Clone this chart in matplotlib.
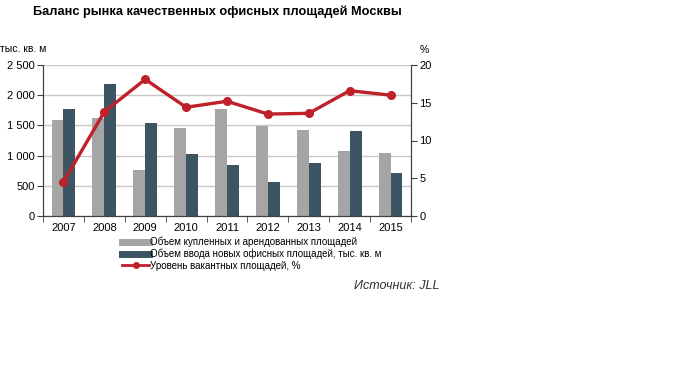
import matplotlib
matplotlib.use("Agg")
import matplotlib.pyplot as plt
from matplotlib.lines import Line2D
import numpy as np

plt.rcParams['font.family'] = ['Liberation Sans Narrow', 'Liberation Sans', 'DejaVu Sans']

years = ["2007", "2008", "2009", "2010", "2011", "2012", "2013", "2014", "2015"]
leased = [1590, 1620, 760, 1455, 1770, 1490, 1425, 1075, 1045]
new_supply = [1770, 2185, 1540, 1025, 845, 560, 875, 1405, 710]
vacancy = [4.5, 13.8, 18.1, 14.4, 15.2, 13.5, 13.6, 16.6, 16.0]

c_gray = "#a5a5a5"
c_dark = "#3d5562"
c_red = "#c0202a"

fig = plt.figure(figsize=(6.8, 3.84), dpi=100)
ax = fig.add_axes([43 / 680, 1 - 216 / 384, 368 / 680, 151 / 384])
ax2 = ax.twinx()

x = np.arange(len(years))
w = 0.29
ax.bar(x - w / 2, leased, w, color=c_gray, zorder=2)
ax.bar(x + w / 2, new_supply, w, color=c_dark, zorder=2)
ax2.plot(x, vacancy, color=c_red, lw=2.4, marker="o", ms=5.5, zorder=3)

ax.set_xlim(-0.5, len(years) - 0.5)
ax.set_ylim(0, 2500)
ax.set_yticks(range(0, 2501, 500))
ax.set_yticklabels(["0", "500", "1 000", "1 500", "2 000", "2 500"])
ax2.set_ylim(0, 20)
ax2.set_yticks(range(0, 21, 5))

ax.set_xticks(x)
ax.set_xticklabels(years)
ax.set_xticks(np.arange(-0.5, len(years)), minor=True)
ax.tick_params(axis="x", which="major", length=0, labelsize=8, pad=5)
ax.tick_params(axis="x", which="minor", length=4, color="#404040")
ax.tick_params(axis="y", length=4, labelsize=8, color="#404040", pad=2)
ax2.tick_params(axis="y", length=4, labelsize=8, color="#404040", pad=2)

ax.grid(axis="y", color="#c8c8c8", lw=1, zorder=0)
ax.set_axisbelow(True)
for a in (ax, ax2):
    a.spines["top"].set_visible(False)
    for s in ("left", "right", "bottom"):
        a.spines[s].set_color("#404040")
        a.spines[s].set_linewidth(0.8)

fig.text(217 / 680, 1 - 5 / 384, "Баланс рынка качественных офисных площадей Москвы",
         ha="center", va="top", fontsize=9.2, fontweight="bold")
fig.text(0 / 680, 1 - 49 / 384, "тыс. кв. м", ha="left", va="center", fontsize=7.5)
fig.text(424 / 680, 1 - 50 / 384, "%", ha="center", va="center", fontsize=7.5)

handles = [
    Line2D([], [], color=c_gray, lw=5),
    Line2D([], [], color=c_dark, lw=5),
    Line2D([], [], color=c_red, lw=2, marker="o", ms=4),
]
labels = [
    "Объем купленных и арендованных площадей",
    "Объем ввода новых офисных площадей, тыс. кв. м",
    "Уровень вакантных площадей, %",
]
fig.legend(handles, labels, loc="upper left", bbox_to_anchor=(122 / 680, 1 - 237 / 384),
           frameon=False, fontsize=7, handlelength=2.8, handletextpad=0.1,
           labelspacing=0.15, borderaxespad=0, borderpad=0)

fig.text(440 / 680, 1 - 286 / 384, "Источник: JLL", ha="right", va="center",
         fontsize=9, style="italic", color="#333333")

fig.savefig("out.png", dpi=100)
